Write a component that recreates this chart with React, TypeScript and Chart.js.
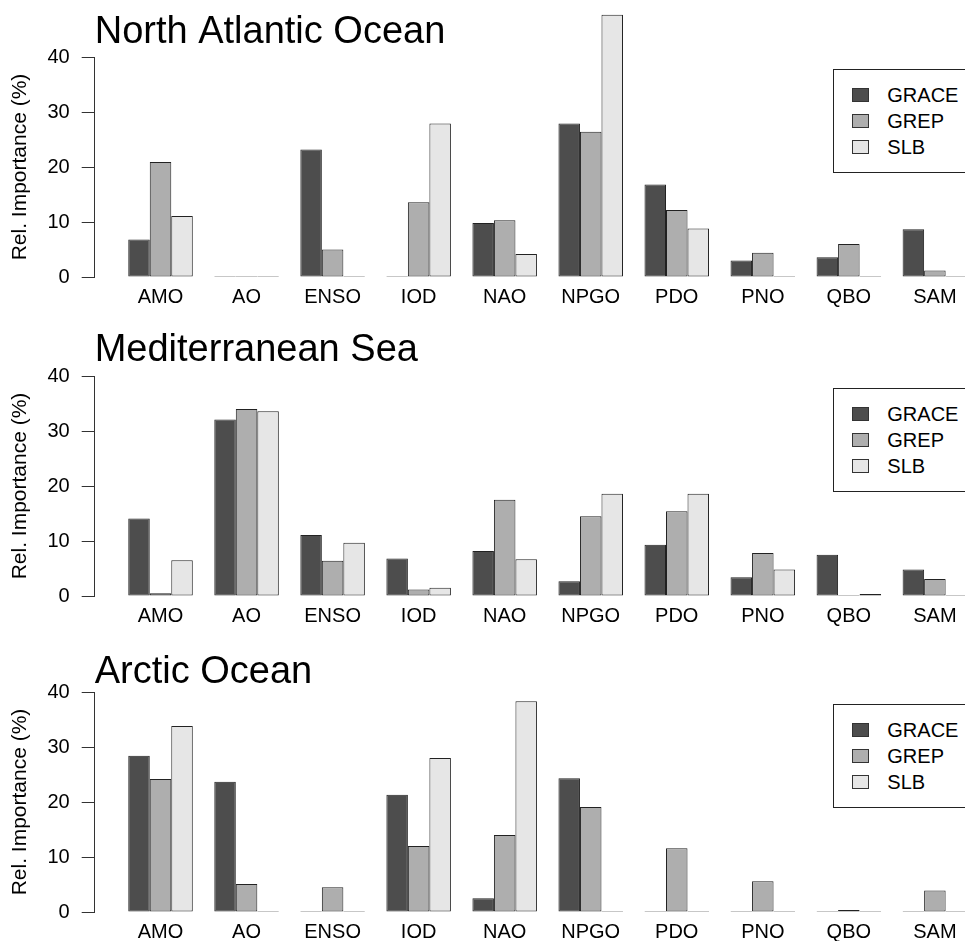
import React, { useEffect, useRef } from "react";
import { Chart, registerables } from "chart.js";

Chart.register(...registerables);

// ---------- data ----------
const CATEGORIES = ["AMO", "AO", "ENSO", "IOD", "NAO", "NPGO", "PDO", "PNO", "QBO", "SAM"];
const SERIES_NAMES = ["GRACE", "GREP", "SLB"];
const SERIES_COLORS = ["#4D4D4D", "#AEAEAE", "#E6E6E6"];
const Y_TICKS = [0, 10, 20, 30, 40];
const Y_TITLE = "Rel. Importance (%)";

const NA_TITLE = "North Atlantic Ocean";
const NA_GRACE = [6.8, 0, 23.2, 0, 9.8, 27.9, 16.8, 3.0, 3.6, 8.7];
const NA_GREP = [20.9, 0, 5.0, 13.6, 10.3, 26.4, 12.2, 4.4, 6.0, 1.2];
const NA_SLB = [11.1, 0, 0, 27.9, 4.2, 47.7, 8.8, 0, 0, 0];

const MED_TITLE = "Mediterranean Sea";
const MED_GRACE = [14.1, 32.1, 11.1, 6.8, 8.2, 2.7, 9.3, 3.4, 7.5, 4.8];
const MED_GREP = [0.5, 34.0, 6.4, 1.2, 17.5, 14.5, 15.4, 7.8, 0, 3.1];
const MED_SLB = [6.5, 33.6, 9.7, 1.5, 6.7, 18.6, 18.6, 4.8, 0.35, 0];

const ARC_TITLE = "Arctic Ocean";
const ARC_GRACE = [28.4, 23.7, 0, 21.3, 2.5, 24.3, 0, 0, 0, 0];
const ARC_GREP = [24.2, 5.1, 4.5, 12.0, 14.0, 19.1, 11.6, 5.6, 0.35, 3.9];
const ARC_SLB = [33.8, 0, 0, 28.0, 38.3, 0, 0, 0, 0, 0];

// ---------- layout / style ----------
const FONT = "'Liberation Sans', Arial, Helvetica, sans-serif";
const BORDER = "#222222";
const AXIS = "#333333";
const CW = 1010; // canvas width (page is cropped at 965 like the reference)
const HC = 318; // canvas height per panel
const AXIS_X = 94.7; // y-axis position
const PLOT_RIGHT = 1000.7;
const X_MIN = -0.765;
const X_MAX = 9.765;

Chart.defaults.font.family = FONT;

type PanelProps = {
  title: string;
  grace: number[];
  grep: number[];
  slb: number[];
  top: number;
  padTop: number;
  titlePadBottom: number;
  padBottom: number;
};

function Legend({ top }: { top: number }) {
  return (
    <div
      style={{
        position: "absolute",
        left: 833.3,
        top,
        width: 150,
        height: 104.3,
        border: "1px solid #222",
        boxSizing: "border-box",
        background: "#fff",
        fontFamily: FONT,
        fontSize: 20,
        color: "#000",
        paddingTop: 12,
      }}
    >
      {SERIES_NAMES.map((n, k) => (
        <div key={n} style={{ position: "relative", height: 26, lineHeight: "26px", whiteSpace: "nowrap" }}>
          <span
            style={{
              position: "absolute",
              left: 18,
              top: 6.3,
              width: 16.7,
              height: 13.4,
              background: SERIES_COLORS[k],
              border: "1px solid #333",
              boxSizing: "border-box",
            }}
          />
          <span style={{ position: "absolute", left: 53, top: 0 }}>{n}</span>
        </div>
      ))}
    </div>
  );
}

function Panel(props: PanelProps) {
  const ref = useRef<HTMLCanvasElement | null>(null);
  const { title, grace, grep, slb, top, padTop, titlePadBottom, padBottom } = props;

  useEffect(() => {
    if (!ref.current) return;
    const values = [grace, grep, slb];
    const chart = new Chart(ref.current, {
      type: "bar",
      data: {
        datasets: SERIES_NAMES.map((name, k) => ({
          label: name,
          data: CATEGORIES.map((_, i) => ({ x: i, y: values[k][i] })),
          backgroundColor: SERIES_COLORS[k],
          borderColor: BORDER,
          borderWidth: 1,
          borderSkipped: false,
          minBarLength: 1,
          clip: false,
          categoryPercentage: 0.75,
          barPercentage: 1,
        })),
      },
      options: {
        animation: false,
        responsive: false,
        events: [],
        layout: {
          padding: { left: 0, right: CW - PLOT_RIGHT, top: padTop, bottom: padBottom },
        },
        plugins: {
          legend: { display: false },
          tooltip: { enabled: false },
          title: {
            display: true,
            text: title,
            align: "start",
            fullSize: false,
            color: "#000",
            font: { family: FONT, size: 38, weight: "normal", lineHeight: 1 },
            padding: { top: 0, bottom: titlePadBottom },
          },
        },
        scales: {
          x: {
            type: "linear",
            min: X_MIN,
            max: X_MAX,
            bounds: "data",
            offset: false,
            grid: { display: false, drawTicks: false },
            border: { display: false },
            afterBuildTicks: (s: any) => {
              s.ticks = CATEGORIES.map((_, i) => ({ value: i }));
            },
            ticks: {
              autoSkip: false,
              maxRotation: 0,
              minRotation: 0,
              padding: 8,
              color: "#000",
              font: { family: FONT, size: 20 },
              callback: (_v: any, i: number) => CATEGORIES[i],
            },
            afterFit: (s: any) => {
              s.height = 32;
              s.paddingLeft = 0;
              s.paddingRight = 0;
            },
          },
          y: {
            type: "linear",
            min: 0,
            max: 40,
            bounds: "data",
            grid: {
              display: true,
              drawOnChartArea: false,
              drawTicks: true,
              tickLength: 13,
              color: AXIS,
              lineWidth: 1,
            },
            border: { display: true, color: AXIS, width: 1 },
            afterBuildTicks: (s: any) => {
              s.ticks = Y_TICKS.map((v) => ({ value: v }));
            },
            ticks: {
              padding: 12,
              color: "#000",
              font: { family: FONT, size: 20 },
            },
            title: {
              display: true,
              text: Y_TITLE,
              color: "#000",
              font: { family: FONT, size: 21 },
              padding: { top: 8, bottom: 0 },
            },
            afterFit: (s: any) => {
              s.width = AXIS_X;
              s.paddingTop = 0;
              s.paddingBottom = 0;
            },
          },
        },
      } as any,
    });
    return () => chart.destroy();
  }, [title, grace, grep, slb, padTop, titlePadBottom, padBottom]);

  const chartTop = padTop + 38 + titlePadBottom;

  return (
    <div style={{ position: "absolute", left: 0, top, width: CW, height: HC }}>
      <canvas ref={ref} width={CW} height={HC} style={{ display: "block" }} />
      <Legend top={chartTop + 12} />
    </div>
  );
}

export default function App() {
  return (
    <div
      style={{
        position: "absolute",
        left: 0,
        top: 0,
        width: 965,
        height: 941,
        overflow: "hidden",
        background: "#fff",
      }}
    >
      <Panel title={NA_TITLE} grace={NA_GRACE} grep={NA_GREP} slb={NA_SLB} top={0} padTop={13.8} titlePadBottom={5.2} padBottom={9} />
      <Panel title={MED_TITLE} grace={MED_GRACE} grep={MED_GREP} slb={MED_SLB} top={318} padTop={13.1} titlePadBottom={6.9} padBottom={8} />
      <Panel title={ARC_TITLE} grace={ARC_GRACE} grep={ARC_GREP} slb={ARC_SLB} top={636} padTop={18} titlePadBottom={0} padBottom={10} />
    </div>
  );
}
